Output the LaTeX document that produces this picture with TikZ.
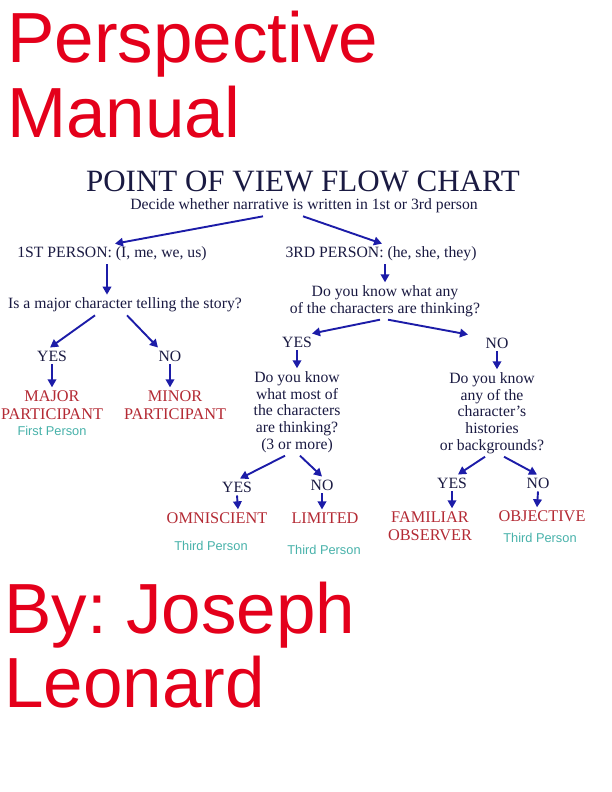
\documentclass[tikz,border=0pt]{standalone}
\usepackage{fontspec}
\setmainfont{Liberation Serif}
\newfontfamily\headfont{Liberation Sans}
\usetikzlibrary{arrows.meta}
\definecolor{inknavy}{RGB}{26,26,66}
\definecolor{arrowblue}{RGB}{28,28,168}
\definecolor{titlered}{RGB}{228,0,27}
\definecolor{povred}{RGB}{180,42,52}
\definecolor{povteal}{RGB}{72,178,170}
\frenchspacing
\tikzset{
  bigtitle/.style={font=\headfont\fontsize{71}{73}\selectfont,text=titlered,
    inner sep=0pt,anchor=base west},
  charttitle/.style={font=\fontsize{31}{34}\selectfont,text=inknavy,inner sep=0pt},
  questionbox/.style={font=\fontsize{15.7}{16.7}\selectfont,text=inknavy,
    inner sep=3pt,align=center},
  resultbox/.style={font=\fontsize{16.3}{18}\selectfont,text=povred,
    inner sep=3pt,align=center},
  personlabel/.style={font=\headfont\fontsize{12.8}{14}\selectfont,text=povteal,inner sep=1pt},
  flowarrow/.style={-{Triangle[length=8pt,width=8.5pt]},line width=1.9pt,draw=arrowblue}
}
\begin{document}
\begin{tikzpicture}[x=1pt,y=-1pt]
  \useasboundingbox[fill=white] (0,0) rectangle (612,792);
  % big red headings
  \node[bigtitle] (cover) at (7,63) {Perspective};
  \node[bigtitle] (cover2) at (7,137) {Manual};
  \node[bigtitle] (byline) at (4,633) {By: Joseph};
  \node[bigtitle] (byline2) at (4,707) {Leonard};
  % chart heading
  \node[charttitle] (title) at (303,181) {POINT OF VIEW FLOW CHART};
  \node[questionbox,inner sep=1pt] (decide) at (304,206)
    {Decide whether narrative is written in 1st or 3rd person};
  \node[questionbox] (first) at (112,254) {1ST PERSON: (I, me, we, us)};
  \node[questionbox] (third) at (381,254) {3RD PERSON: (he, she, they)};
  % first person branch
  \node[questionbox] (majorq) at (125,305) {Is a major character telling the story?};
  \node[questionbox] (yesA) at (52,356) {YES};
  \node[questionbox] (noA) at (170,356) {NO};
  \node[resultbox] (major) at (52,405) {MAJOR\\PARTICIPANT};
  \node[personlabel] (firstp) at (52,431) {First Person};
  \node[resultbox] (minor) at (175,405) {MINOR\\PARTICIPANT};
  % third person branch
  \node[questionbox] (anyq) at (385,301)
    {Do you know what any\\of the characters are thinking?};
  \node[questionbox] (yesB) at (297,342) {YES};
  \node[questionbox] (noB) at (497,343) {NO};
  \node[questionbox] (mostq) at (297,412)
    {Do you know\\what most of\\the characters\\are thinking?\\(3 or more)};
  \node[questionbox] (backq) at (492,413)
    {Do you know\\any of the\\character's\\histories\\or backgrounds?};
  \node[questionbox] (yesC) at (237,487) {YES};
  \node[questionbox] (noC) at (322,485) {NO};
  \node[resultbox] (omni) at (217,518) {OMNISCIENT};
  \node[resultbox] (limited) at (325,518) {LIMITED};
  \node[personlabel] (omnip) at (211,546) {Third Person};
  \node[personlabel] (limitedp) at (324,550) {Third Person};
  \node[questionbox] (yesD) at (452,483) {YES};
  \node[questionbox] (noD) at (538,483) {NO};
  \node[resultbox] (familiar) at (430,526) {FAMILIAR\\OBSERVER};
  \node[resultbox] (objective) at (542,516) {OBJECTIVE};
  \node[personlabel] (objectivep) at (540,538) {Third Person};
  % connectors
  \draw[flowarrow] ([xshift=-41pt,yshift=-2pt]decide.south) -- ([xshift=3pt]first.north);
  \draw[flowarrow] ([xshift=-1pt,yshift=-2pt]decide.south) -- ([xshift=1pt]third.north);
  \draw[flowarrow] ([xshift=-5pt]first.south) -- ([xshift=-18pt]majorq.north);
  \draw[flowarrow] ([xshift=-30pt]majorq.south) -- ([xshift=-2pt]yesA.north);
  \draw[flowarrow] ([xshift=2pt]majorq.south) -- ([xshift=-12pt]noA.north);
  \draw[flowarrow] (yesA.south) -- (major.north);
  \draw[flowarrow] (noA.south) -- ([xshift=-5pt]minor.north);
  \draw[flowarrow] ([xshift=4pt]third.south) -- (anyq.north);
  \draw[flowarrow] ([xshift=-5pt]anyq.south) -- ([xshift=15pt]yesB.north);
  \draw[flowarrow] ([xshift=3pt]anyq.south) -- ([xshift=-29pt]noB.north);
  \draw[flowarrow] (yesB.south) -- (mostq.north);
  \draw[flowarrow] (noB.south) -- ([xshift=5pt]backq.north);
  \draw[flowarrow] ([xshift=-12pt]mostq.south) -- ([xshift=3pt]yesC.north);
  \draw[flowarrow] ([xshift=3pt]mostq.south) -- (noC.north);
  \draw[flowarrow] (yesC.south) -- ([xshift=21pt]omni.north);
  \draw[flowarrow] (noC.south) -- ([xshift=-3pt]limited.north);
  \draw[flowarrow] ([xshift=-7pt]backq.south) -- ([xshift=6pt]yesD.north);
  \draw[flowarrow] ([xshift=12pt]backq.south) -- ([xshift=-1pt]noD.north);
  \draw[flowarrow] (yesD.south) -- ([xshift=22pt]familiar.north);
  \draw[flowarrow] (noD.south) -- ([xshift=-5pt]objective.north);
\end{tikzpicture}
\end{document}
